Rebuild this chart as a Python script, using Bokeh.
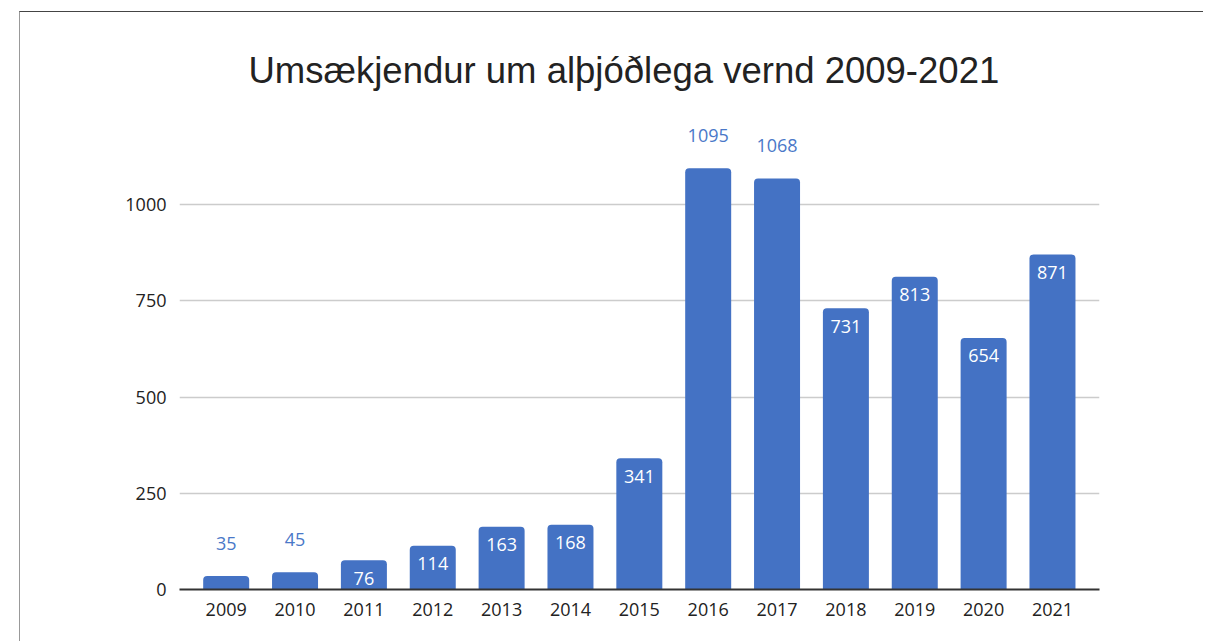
from bokeh.plotting import figure
from bokeh.models import ColumnDataSource, Range1d, FixedTicker
from bokeh.core.properties import value
from bokeh.embed import file_html
from bokeh.resources import INLINE

years = ["2009", "2010", "2011", "2012", "2013", "2014", "2015",
         "2016", "2017", "2018", "2019", "2020", "2021"]
applicants = [35, 45, 76, 114, 163, 168, 341, 1095, 1068, 731, 813, 654, 871]
y_ticks = [0, 250, 500, 750, 1000]
title_text = "Umsækjendur um alþjóðlega vernd 2009-2021"

BAR = "#4472c4"
LABEL_OUT = "#4a78c8"
xs = list(range(len(years)))

def is_inside(v):
    return 50 <= v <= 1000

src_in = ColumnDataSource(dict(x=[i for i, v in zip(xs, applicants) if is_inside(v)],
                               y=[v for v in applicants if is_inside(v)],
                               t=[str(v) for v in applicants if is_inside(v)]))
src_out = ColumnDataSource(dict(x=[i for i, v in zip(xs, applicants) if not is_inside(v)],
                                y=[v for v in applicants if not is_inside(v)],
                                t=[str(v) for v in applicants if not is_inside(v)]))
src = ColumnDataSource(dict(x=xs, top=applicants))

p = figure(width=1184, height=630, output_backend="svg", toolbar_location=None,
           x_range=Range1d(-0.678, 12.683), y_range=Range1d(0, 1245),
           min_border_left=159, min_border_right=105,
           min_border_top=98, min_border_bottom=53,
           margin=(11, 0, 0, 19),
           styles={"border-top": "1px solid #444444",
                   "border-left": "1px solid #999999"})

p.title.text = title_text
p.title.text_font = "Liberation Sans"
p.title.text_font_size = "36.5px"
p.title.text_font_style = "normal"
p.title.text_color = "#222222"
p.title.align = "left"
p.title.offset = 69
p.title.standoff = 40

p.vbar(x="x", top="top", bottom=0, width=0.668, source=src,
       fill_color=BAR, line_color=None, border_radius=(4, 4, 0, 0))

p.text(x="x", y="y", text="t", source=src_in, text_align="center",
       text_baseline="middle", y_offset=18, text_color="white",
       text_font=value("Open Sans"), text_font_size="18px")
p.text(x="x", y="y", text="t", source=src_out, text_align="center",
       text_baseline="middle", y_offset=-33, text_color=LABEL_OUT,
       text_font=value("Open Sans"), text_font_size="18px")

p.xaxis.ticker = FixedTicker(ticks=xs)
p.xaxis.major_label_overrides = {i: y for i, y in zip(xs, years)}
p.yaxis.ticker = FixedTicker(ticks=y_ticks)

for ax in (p.xaxis, p.yaxis):
    ax.major_tick_line_color = None
    ax.minor_tick_line_color = None
    ax.major_label_text_font = "Open Sans"
    ax.major_label_text_font_size = "18px"
    ax.major_label_text_color = "#222222"
p.xaxis.axis_line_color = "#333333"
p.xaxis.axis_line_width = 2
p.xaxis.major_label_standoff = 7
p.yaxis.axis_line_color = None
p.yaxis.major_label_standoff = 7

p.xgrid.grid_line_color = None
p.ygrid.grid_line_color = "#cccccc"
p.ygrid.grid_line_width = 1.5
p.outline_line_color = None
p.background_fill_color = "white"
p.border_fill_color = "white"

open("out.html", "w").write(file_html(p, INLINE))
